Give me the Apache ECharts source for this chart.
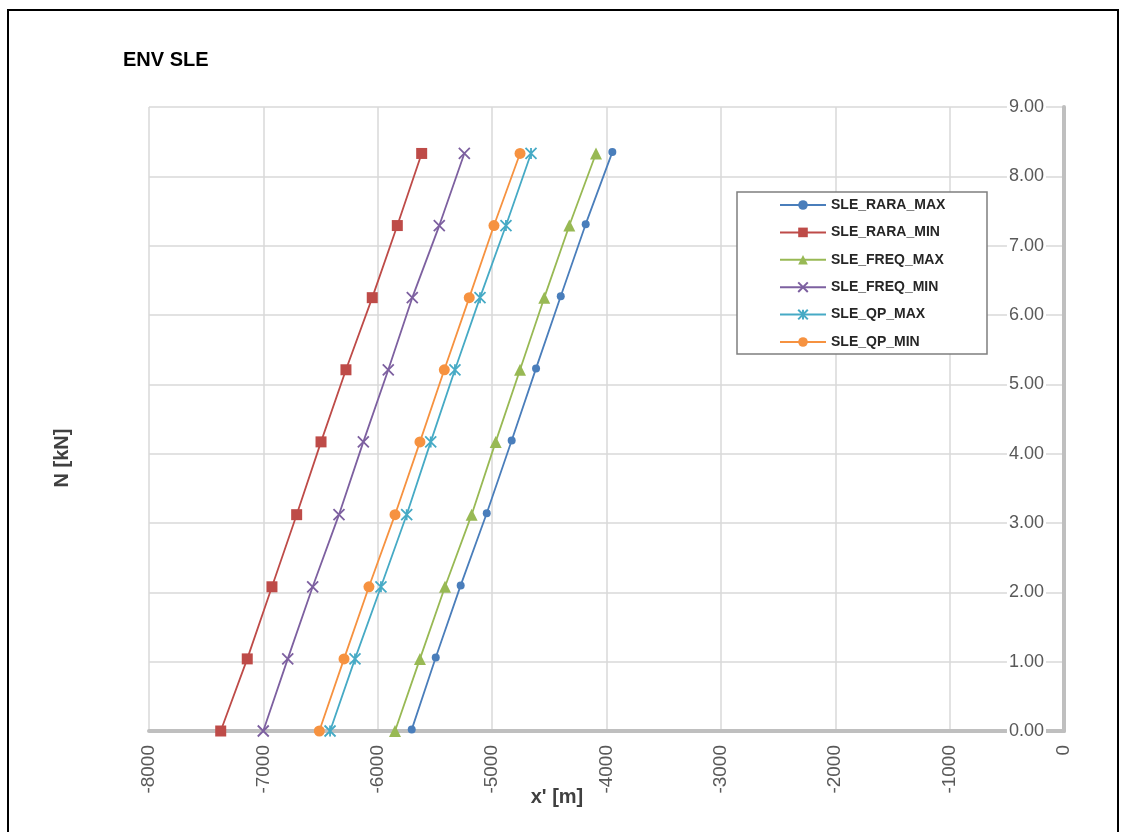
<!DOCTYPE html>
<html>
<head>
<meta charset="utf-8">
<script src="https://cdn.jsdelivr.net/npm/echarts@6/dist/echarts.min.js"></script>
<style>
html,body{margin:0;padding:0;background:#fff;}
#chart{width:1122px;height:832px;}
</style>
</head>
<body>
<div id="chart"></div>
<script>
// ---- data ----
const seriesNames = ['SLE_RARA_MAX','SLE_RARA_MIN','SLE_FREQ_MAX','SLE_FREQ_MIN','SLE_QP_MAX','SLE_QP_MIN'];
const levelN = [0, 1.04, 2.08, 3.12, 4.17, 5.21, 6.25, 7.29, 8.33];
const levelNRaraMax = [0.02, 1.06, 2.10, 3.14, 4.19, 5.23, 6.27, 7.31, 8.35];
const raraMaxX = [-5703, -5493, -5275, -5047, -4829, -4616, -4400, -4182, -3949];
const raraMinX = [-7373, -7141, -6925, -6709, -6496, -6278, -6048, -5829, -5616];
const freqMaxX = [-5849, -5631, -5412, -5179, -4969, -4756, -4544, -4325, -4092];
const freqMinX = [-7001, -6787, -6569, -6339, -6126, -5908, -5698, -5462, -5243];
const qpMaxX   = [-6417, -6199, -5972, -5747, -5537, -5325, -5106, -4879, -4660];
const qpMinX   = [-6511, -6295, -6077, -5849, -5631, -5418, -5200, -4984, -4756];
const xTicks = {min: -8000, max: 0, interval: 1000};
const yTicks = {min: 0, max: 9, interval: 1};
const titleText = 'ENV SLE';
const xName = "x' [m]";
const yName = 'N [kN]';

// ---- styling ----
const FONT = '"Liberation Sans", Arial, sans-serif';
const colors = ['#4a7ebb','#be4b48','#98b954','#7d60a0','#46aac5','#f69240'];
const symbols = [
  {symbol:'circle', size:8},
  {symbol:'rect', size:11},
  {symbol:'triangle', size:12},
  {symbol:'path://M0,0L10,10M10,0L0,10', size:11, stroke:true},
  {symbol:'path://M0,0L10,10M10,0L0,10M5,0L5,10', size:11, stroke:true},
  {symbol:'circle', size:11}
];
const xs = [raraMaxX, raraMinX, freqMaxX, freqMinX, qpMaxX, qpMinX];
const ys = [levelNRaraMax, levelN, levelN, levelN, levelN, levelN];

function pairs(xArr, yArr){ return xArr.map((v,i)=>[v, yArr[i]]); }

const series = seriesNames.map((name, i) => {
  const s = symbols[i];
  return {
    name: name,
    type: 'line',
    data: pairs(xs[i], ys[i]),
    symbol: s.symbol,
    symbolSize: s.size,
    showAllSymbol: true,
    lineStyle: {color: colors[i], width: 1.8},
    itemStyle: s.stroke
      ? {color: colors[i], borderColor: colors[i], borderWidth: 1.8}
      : {color: colors[i], borderWidth: 0},
    emphasis: {disabled: true},
    animation: false,
    z: 5
  };
});

const chart = echarts.init(document.getElementById('chart'), null, {renderer:'canvas'});
chart.setOption({
  animation: false,
  backgroundColor: '#fff',
  color: colors,
  textStyle: {fontFamily: FONT},
  title: {
    text: titleText, left: 118, top: 45,
    textStyle: {fontFamily: FONT, fontSize: 20, fontWeight: 'bold', color: '#000'}
  },
  grid: {left: 149, right: 58, top: 107, bottom: 101, containLabel: false},
  xAxis: {
    type: 'value', min: xTicks.min, max: xTicks.max, interval: xTicks.interval,
    position: 'bottom',
    axisLine: {show: true, onZero: false, lineStyle: {color: '#bfbfbf', width: 4}},
    axisTick: {show: false},
    splitLine: {show: true, lineStyle: {color: '#d9d9d9', width: 1.5}},
    axisLabel: {rotate: 90, margin: 14, fontSize: 19, color: '#595959', fontFamily: FONT,
                formatter: v => String(v)}
  },
  yAxis: {
    type: 'value', min: yTicks.min, max: yTicks.max, interval: yTicks.interval,
    position: 'right',
    axisLine: {show: true, onZero: false, lineStyle: {color: '#bfbfbf', width: 4}},
    axisTick: {show: false},
    splitLine: {show: true, lineStyle: {color: '#d9d9d9', width: 1.5}},
    axisLabel: {
      inside: true, margin: 18, fontSize: 18, color: '#595959', fontFamily: FONT,
      backgroundColor: '#fff', padding: [0, 2],
      formatter: v => v.toFixed(2)
    }
  },
  legend: {
    orient: 'vertical', left: 779, top: 198,
    itemWidth: 46, itemHeight: 12, itemGap: 13.4, padding: 0,
    data: seriesNames,
    textStyle: {fontFamily: FONT, fontSize: 14, fontWeight: 'bold', color: '#262626'},
    z: 10
  },
  graphic: [
    {type: 'rect', z: 3, shape: {x: 737, y: 192, width: 250, height: 162},
     style: {fill: '#fff', stroke: '#7f7f7f', lineWidth: 1.5}},
    {type: 'text', z: 10, x: 557, y: 797,
     style: {text: xName, fontFamily: FONT, fontSize: 20, fontWeight: 'bold', fill: '#404040',
             align: 'center', verticalAlign: 'middle'}},
    {type: 'text', z: 10, x: 62, y: 458, rotation: Math.PI/2,
     style: {text: yName, fontFamily: FONT, fontSize: 20, fontWeight: 'bold', fill: '#404040',
             align: 'center', verticalAlign: 'middle'}},
    {type: 'rect', z: 20, silent: true, shape: {x: 8, y: 10, width: 1110, height: 900},
     style: {fill: 'none', stroke: '#000', lineWidth: 2}}
  ],
  series: series
});
</script>
</body>
</html>
